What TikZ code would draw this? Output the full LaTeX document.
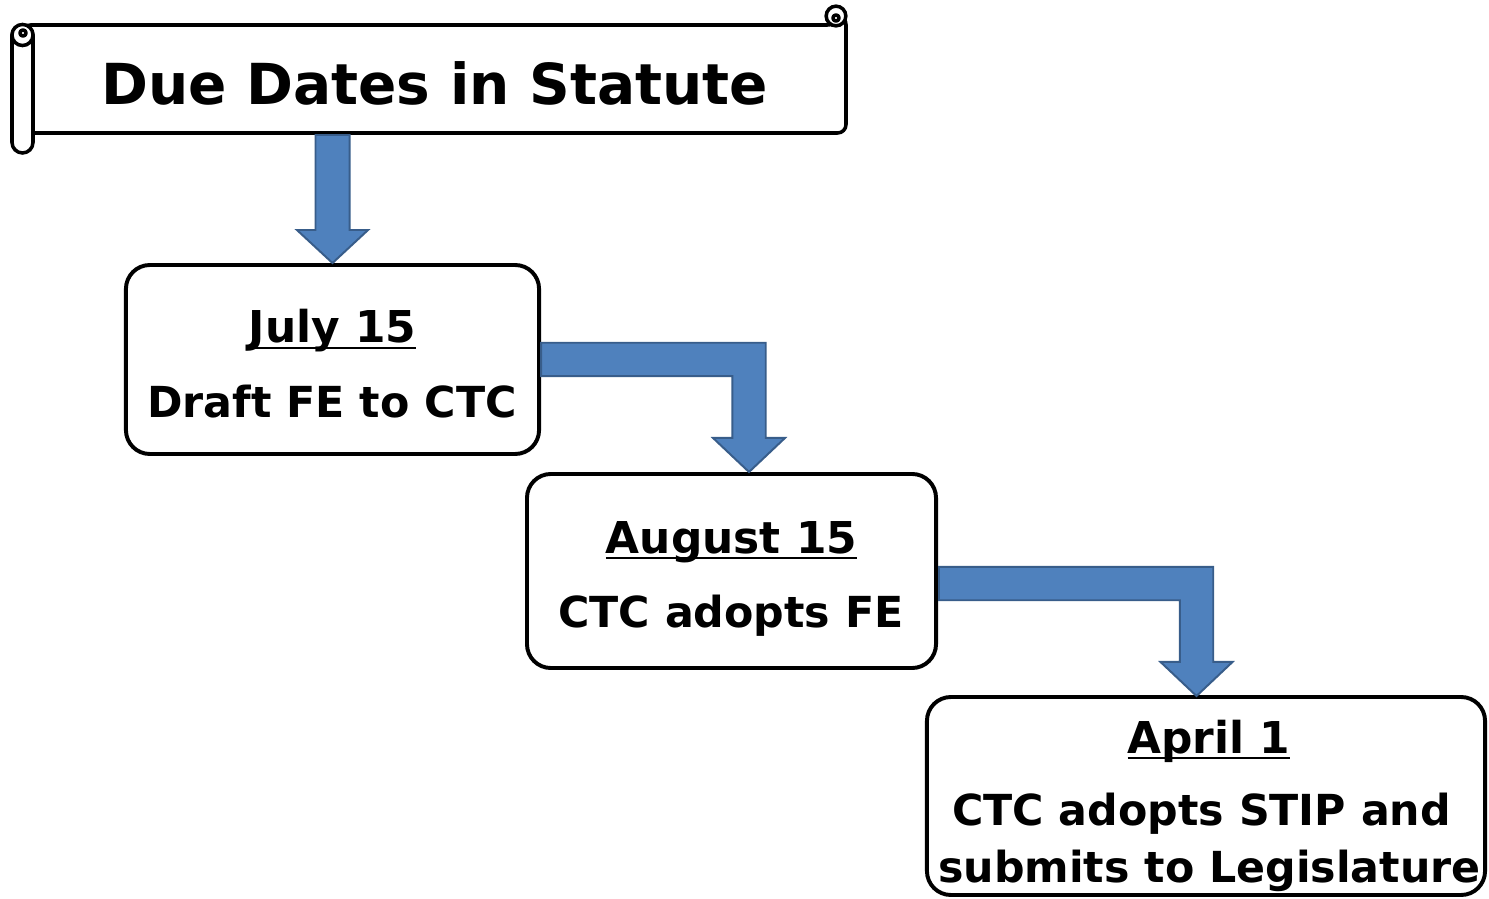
\documentclass[tikz,border=0pt]{standalone}
\usepackage{fontspec}
\usepackage{tikz}
\usetikzlibrary{calc}
\newfontfamily\tahomalike{DejaVu Sans}
\definecolor{arrowfill}{HTML}{4F81BD}
\definecolor{arrowedge}{HTML}{385D8A}
\newcommand{\udate}[1]{\setbox0\hbox{#1}\rlap{\rule[-4.6pt]{\wd0}{2.1pt}}\box0}
\newcommand{\downblock}[2]{\filldraw [blockarrow] let \p1=(#1), \p2=(#2) in
  (\x2-12.1pt,\y1) -- (\x2+12.1pt,\y1) -- (\x2+12.1pt,\y2+23.5pt) -- (\x2+25.3pt,\y2+23.5pt)
  -- (\x2,\y2) -- (\x2-25.3pt,\y2+23.5pt) -- (\x2-12.1pt,\y2+23.5pt) -- cycle;}
\newcommand{\elbowblock}[2]{\filldraw [blockarrow] let \p1=(#1), \p2=(#2) in
  (\x1,\y1+11.9pt) -- (\x2+11.9pt,\y1+11.9pt) -- (\x2+11.9pt,\y2+24.2pt) -- (\x2+25.6pt,\y2+24.2pt)
  -- (\x2,\y2) -- (\x2-25.6pt,\y2+24.2pt) -- (\x2-11.9pt,\y2+24.2pt) -- (\x2-11.9pt,\y1-11.9pt)
  -- (\x1,\y1-11.9pt) -- cycle;}
\tikzset{
  scrollline/.style={line width=2.5pt, line join=round, line cap=round},
  datebox/.style={draw, line width=2.8pt, rounded corners=17pt, fill=white, inner sep=0pt},
  blockarrow/.style={fill=arrowfill, draw=arrowedge, line width=1.4pt, line join=miter},
  titletext/.style={anchor=base, inner sep=0pt, font=\tahomalike\bfseries\fontsize{40.2}{48}\selectfont},
  datetext/.style={anchor=base, inner sep=0pt, font=\tahomalike\bfseries\fontsize{31.2}{38}\selectfont},
  notetext/.style={anchor=base, inner sep=0pt, font=\tahomalike\bfseries\fontsize{30.4}{38}\selectfont}
}
\begin{document}
\begin{tikzpicture}[x=0.025cm, y=-0.025cm]

\useasboundingbox (0,0) rectangle (1489,899);

\draw [scrollline, fill=white, rounded corners=6pt] (22,25) -- (836,25) -- (846,16) -- (846,133) -- (22,133) -- cycle;
\draw [scrollline, fill=white] (836,16) circle (7pt);
\draw [scrollline] (836,18) circle (2.2pt);
\draw [scrollline, fill=white, rounded corners=7.5pt] (12,25) rectangle (33,153);
\draw [scrollline, fill=white] (22.5,35) circle (7.5pt);
\draw [scrollline] (23,33) circle (2.2pt);
\node (title) [titletext] at (434.5,105) {Due Dates in Statute};
\coordinate (titlefoot) at (333,135);

\node (july) [datebox, minimum width=293.8pt, minimum height=134.4pt] at (332.5,359.5) {};
\node (august) [datebox, minimum width=290.9pt, minimum height=138pt] at (731.5,571) {};
\node (april) [datebox, minimum width=396.9pt, minimum height=140.8pt] at (1206,796) {};

\node (julydate) [datetext] at (332.5,343) {\udate{July 15}};
\node (julynote) [notetext] at (332,418) {Draft FE to CTC};
\node (augustdate) [datetext] at (731.5,553) {\udate{August 15}};
\node (augustnote) [notetext] at (731,627) {CTC adopts FE};
\node (aprildate) [datetext] at (1209,753) {\udate{April 1}};
\node (aprilnote) [notetext] at (1201.5,825) {CTC adopts STIP and};
\node (aprilnotetwo) [notetext] at (1209.5,882) {submits to Legislature};

\coordinate (augusttip) at (749,472);
\coordinate (augustexit) at (939,583.5);
\coordinate (apriltip) at (1196.5,696);

\downblock{titlefoot}{july.north}
\elbowblock{july.east}{augusttip}
\elbowblock{augustexit}{apriltip}

\end{tikzpicture}
\end{document}
